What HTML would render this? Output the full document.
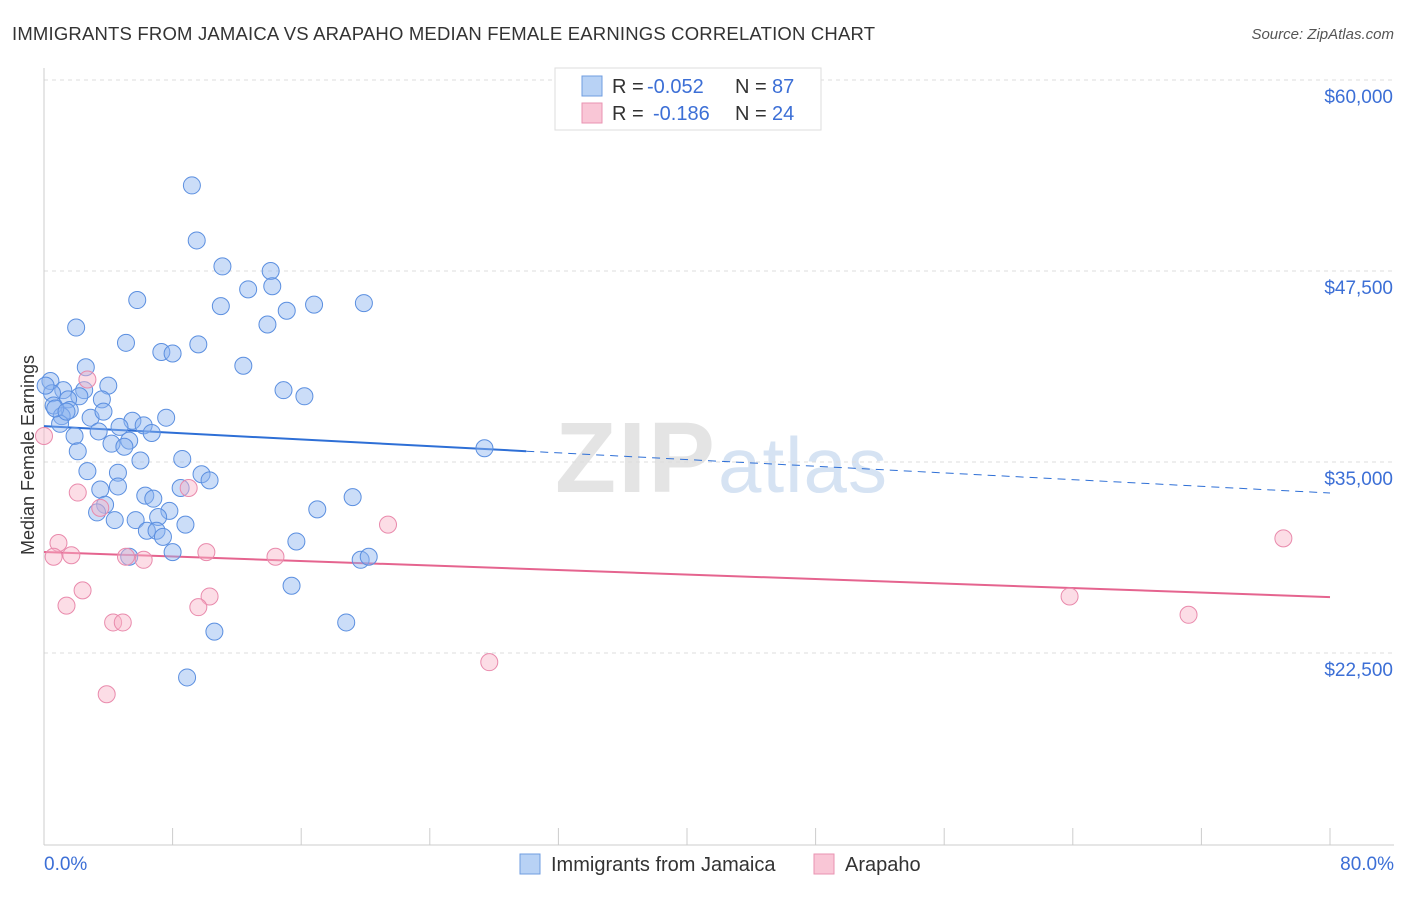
<!DOCTYPE html>
<html><head><meta charset="utf-8"><style>
body{margin:0;background:#fff;font-family:"Liberation Sans",sans-serif;}
svg text{font-family:"Liberation Sans",sans-serif;}
</style></head><body>
<svg width="1406" height="892" id="chart">
<text x="12" y="40" font-size="18.5" textLength="863" fill="#333">IMMIGRANTS FROM JAMAICA VS ARAPAHO MEDIAN FEMALE EARNINGS CORRELATION CHART</text>
<text x="1394" y="39" font-size="15" fill="#555" font-style="italic" text-anchor="end">Source: ZipAtlas.com</text>
<text x="555" y="492" font-size="100" textLength="160" fill="#e4e4e4" font-weight="bold" font-family="Liberation Serif">ZIP</text>
<text x="718" y="492" font-size="78" textLength="169" fill="#d6e3f3">atlas</text>
<g id="grid"></g><g id="axes"></g><g id="trends"></g><g id="points"></g>
<text transform="translate(34,455) rotate(-90)" font-size="18" fill="#333" text-anchor="middle">Median Female Earnings</text>
<text x="44" y="870" font-size="19" fill="#3c6fd6">0.0%</text>
<text x="1394" y="870" font-size="19" fill="#3c6fd6" text-anchor="end">80.0%</text>
<g>
<rect x="555" y="68" width="266" height="62" fill="#fff" stroke="#ddd"/>
<rect x="582" y="76" width="20" height="20" fill="#b8d2f5" stroke="#6f9de0"/>
<rect x="582" y="103" width="20" height="20" fill="#f9c6d6" stroke="#e993b2"/>
<text x="612" y="93" font-size="20" fill="#333">R =</text>
<text x="647" y="93" font-size="20" fill="#3c6fd6">-0.052</text>
<text x="735" y="93" font-size="20" fill="#333">N =</text>
<text x="772" y="93" font-size="20" fill="#3c6fd6">87</text>
<text x="612" y="120" font-size="20" fill="#333">R =</text>
<text x="653" y="120" font-size="20" fill="#3c6fd6">-0.186</text>
<text x="735" y="120" font-size="20" fill="#333">N =</text>
<text x="772" y="120" font-size="20" fill="#3c6fd6">24</text>
</g>
<g>
<rect x="520" y="854" width="20" height="20" fill="#b8d2f5" stroke="#6f9de0"/>
<text x="551" y="871" font-size="20" fill="#333">Immigrants from Jamaica</text>
<rect x="814" y="854" width="20" height="20" fill="#f9c6d6" stroke="#e993b2"/>
<text x="845" y="871" font-size="20" fill="#333">Arapaho</text>
</g>
</svg>
<script>
const yTicks=[22500,35000,47500,60000];
const yTickLabels=["$22,500","$35,000","$47,500","$60,000"];
const blueX=[9.2,9.5,11.1,14.1,5.8,12.7,14.2,11.0,16.8,19.9,15.1,13.9,2.0,5.1,9.6,7.3,8.0,12.4,2.6,0.4,1.2,4.0,2.5,14.9,16.2,0.5,2.2,0.6,1.5,3.6,1.6,1.1,2.9,3.7,5.5,7.6,1.0,4.7,6.2,3.4,6.7,1.9,4.2,5.3,5.0,2.1,6.0,8.6,27.4,2.7,4.6,9.8,10.3,3.5,4.6,8.5,6.3,6.8,19.2,3.8,3.3,7.8,17.0,4.4,5.7,7.1,8.8,6.4,7.0,7.4,15.7,5.3,8.0,19.7,20.2,15.4,18.8,10.6,8.9,0.1,0.7,1.4];
const blueY=[53100,49500,47800,47500,45600,46300,46500,45200,45300,45400,44900,44000,43800,42800,42700,42200,42100,41300,41200,40300,39700,40000,39700,39700,39300,39500,39300,38700,39100,39100,38400,38000,37900,38300,37700,37900,37500,37300,37400,37000,36900,36700,36200,36400,36000,35700,35100,35200,35900,34400,34300,34200,33800,33200,33400,33300,32800,32600,32700,32200,31700,31800,31900,31200,31200,31400,30900,30500,30500,30100,29800,28800,29100,28600,28800,26900,24500,23900,20900,40000,38500,38300];
const pinkX=[0,2.7,2.1,9.0,3.5,0.9,0.6,1.7,5.1,6.2,10.1,14.4,21.4,2.4,1.4,10.3,9.6,4.3,4.9,3.9,27.7,63.8,71.2,77.1];
const pinkY=[36700,40400,33000,33300,32000,29700,28800,28900,28800,28600,29100,28800,30900,26600,25600,26200,25500,24500,24500,19800,21900,26200,25000,30000];
const blueTrend=[37350,32970];
const pinkTrend=[29110,26160];
const ns="http://www.w3.org/2000/svg";
const X=v=>44+v/80*1286;
const Y=v=>80+(60000-v)/12500*191;
function mk(t,a,p){const e=document.createElementNS(ns,t);for(const k in a)e.setAttribute(k,a[k]);p.appendChild(e);return e;}
const grid=document.getElementById('grid'),axes=document.getElementById('axes'),tr=document.getElementById('trends'),pts=document.getElementById('points');
yTicks.forEach((v,i)=>{
 const l=mk('line',{x1:44,x2:1394,y1:Y(v),y2:Y(v),stroke:'#ddd','stroke-dasharray':'4,4'},grid);
 
 
 const t=mk('text',{x:1393,y:Y(v)+23,'font-size':19,fill:'#3c6fd6','text-anchor':'end'},grid);
 t.textContent=yTickLabels[i];
 
 
});
const ax=mk('line',{x1:44,x2:44,y1:68,y2:845,stroke:'#ccc'},axes);


const bx=mk('line',{x1:44,x2:1394,y1:845,y2:845,stroke:'#ccc'},axes);


for(let i=0;i<=10;i++){const t=mk('line',{x1:X(i*8),x2:X(i*8),y1:828,y2:845,stroke:'#ccc'},axes);
 
 }
const bl=v=>blueTrend[0]+(blueTrend[1]-blueTrend[0])*v/80;
const pl=v=>pinkTrend[0]+(pinkTrend[1]-pinkTrend[0])*v/80;
const t1=mk('line',{x1:X(0),y1:Y(bl(0)),x2:X(30),y2:Y(bl(30)),stroke:'#2e6fd6','stroke-width':2},tr);


const t2=mk('line',{x1:X(30),y1:Y(bl(30)),x2:X(80),y2:Y(bl(80)),stroke:'#2e6fd6','stroke-width':1,'stroke-dasharray':'8,6'},tr);


const t3=mk('line',{x1:X(0),y1:Y(pl(0)),x2:X(80),y2:Y(pl(80)),stroke:'#e5648f','stroke-width':2},tr);


blueX.forEach((v,i)=>{const c=mk('circle',{cx:X(v),cy:Y(blueY[i]),r:8.5,fill:'rgba(140,180,240,0.45)',stroke:'#5b8fe0','stroke-width':1},pts);
 
 });
pinkX.forEach((v,i)=>{const c=mk('circle',{cx:X(v),cy:Y(pinkY[i]),r:8.5,fill:'rgba(248,180,200,0.45)',stroke:'#e98aac','stroke-width':1},pts);
 
 });
</script>
</body></html>
